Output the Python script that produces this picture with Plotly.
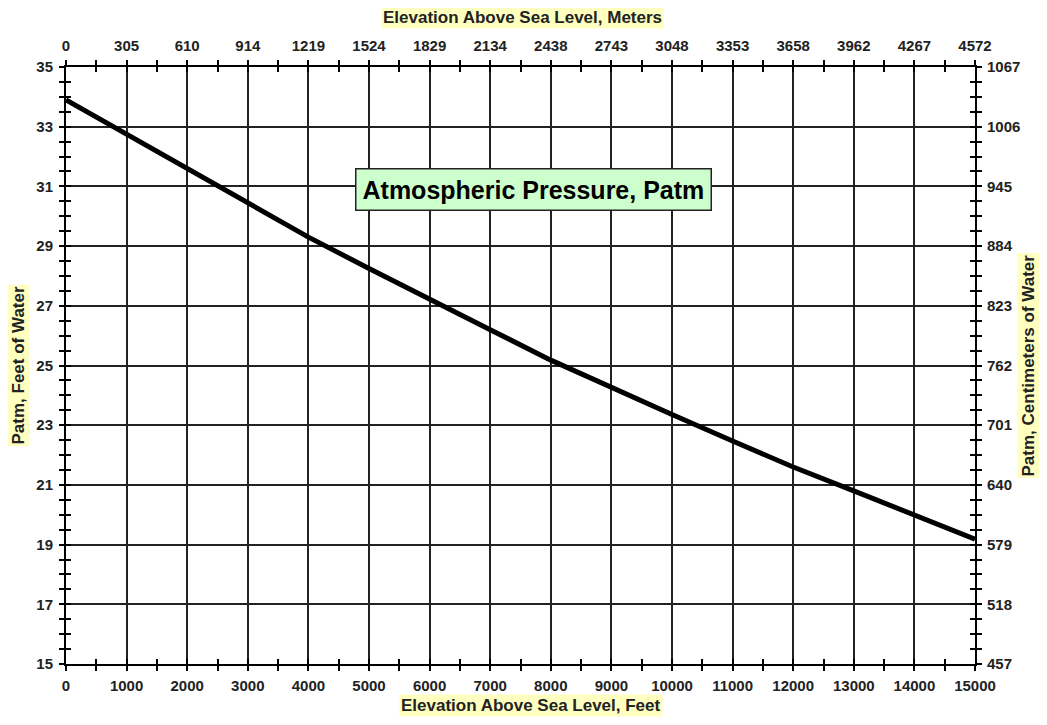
import plotly.graph_objects as go

elev_ft = [0, 1000, 1500, 2000, 3000, 4000, 5000, 6000, 7000, 8000, 9000,
           10000, 11000, 12000, 13000, 14000, 15000]
patm_ft = [33.9, 32.76, 32.15, 31.6, 30.45, 29.3, 28.25, 27.21, 26.2, 25.18, 24.25,
           23.36, 22.47, 21.6, 20.8, 20.0, 19.18]

ft_ticks = list(range(0, 15001, 1000))
ft_labels = [str(v) for v in ft_ticks]
m_labels = ["0", "305", "610", "914", "1219", "1524", "1829", "2134", "2438",
            "2743", "3048", "3353", "3658", "3962", "4267", "4572"]
y_ticks = list(range(15, 36, 2))
y_labels = [str(v) for v in y_ticks]
cm_labels = ["457", "518", "579", "640", "701", "762", "823", "884", "945",
             "1006", "1067"]

title_text = "Atmospheric Pressure, Patm"
FONT = "Liberation Sans, Arial, sans-serif"
tickfont = dict(family=FONT, size=15, color="#222222", weight="bold")

fig = go.Figure()
fig.add_trace(go.Scatter(x=elev_ft, y=patm_ft, mode="lines",
                         line=dict(color="black", width=5), showlegend=False,
                         xaxis="x", yaxis="y"))
for xa, ya in [("x2", "y2"), ("x3", "y3"), ("x4", "y4")]:
    fig.add_trace(go.Scatter(x=elev_ft, y=patm_ft, mode="lines",
                             line=dict(color="rgba(0,0,0,0)", width=0),
                             showlegend=False, hoverinfo="skip",
                             xaxis=xa, yaxis=ya))

xr = [0, 15000]
yr = [15, 35]
common = dict(showline=True, linecolor="black", linewidth=2, zeroline=False)
tk = dict(ticklen=5, tickwidth=2, tickcolor="black")

fig.update_layout(
    width=1031, height=709,
    margin=dict(l=58, r=64, t=59, b=53),
    paper_bgcolor="white", plot_bgcolor="white",
    xaxis=dict(range=xr, tickvals=ft_ticks, ticktext=ft_labels, ticks="outside",
               showgrid=True, gridcolor="#222222", gridwidth=2,
               tickfont=tickfont, side="bottom", ticklabelstandoff=2,
               minor=dict(dtick=500, ticks="outside", showgrid=False, **tk),
               **tk, **common),
    xaxis2=dict(range=xr, tickvals=ft_ticks, ticktext=m_labels, overlaying="x",
                side="top", ticks="outside", showgrid=False, tickfont=tickfont,
                ticklabelstandoff=3,
                minor=dict(dtick=500, ticks="outside", **tk), **tk, **common),
    xaxis3=dict(range=xr, tickvals=ft_ticks, overlaying="x", side="bottom",
                ticks="inside", showticklabels=False, showgrid=False,
                minor=dict(dtick=500, ticks="inside", **tk), **tk, **common),
    xaxis4=dict(range=xr, tickvals=ft_ticks, overlaying="x", side="top",
                ticks="inside", showticklabels=False, showgrid=False,
                minor=dict(dtick=500, ticks="inside", **tk), **tk, **common),
    yaxis=dict(range=yr, tickvals=y_ticks, ticktext=y_labels, ticks="outside",
               showgrid=True, gridcolor="#222222", gridwidth=2,
               tickfont=tickfont, side="left", ticklabelstandoff=3,
               minor=dict(dtick=0.5, ticks="outside", showgrid=False, **tk),
               **tk, **common),
    yaxis2=dict(range=yr, tickvals=y_ticks, ticktext=cm_labels, overlaying="y",
                side="right", ticks="outside", showgrid=False, tickfont=tickfont,
                ticklabelstandoff=2,
                minor=dict(dtick=0.5, ticks="outside", **tk), **tk, **common),
    yaxis3=dict(range=yr, tickvals=y_ticks, overlaying="y", side="left",
                ticks="inside", showticklabels=False, showgrid=False,
                minor=dict(dtick=0.5, ticks="inside", **tk), **tk, **common),
    yaxis4=dict(range=yr, tickvals=y_ticks, overlaying="y", side="right",
                ticks="inside", showticklabels=False, showgrid=False,
                minor=dict(dtick=0.5, ticks="inside", **tk), **tk, **common),
)

label_font = dict(family=FONT, size=17, color="#222222")
ann = dict(showarrow=False, font=label_font, bgcolor="#FFFFC0", borderpad=1,
           xanchor="center", yanchor="middle", xref="paper", yref="paper")
fig.add_annotation(text="<b>Elevation Above Sea Level, Meters</b>",
                   x=0.502, y=1.0, yshift=50, **ann)
fig.add_annotation(text="<b>Elevation Above Sea Level, Feet</b>",
                   x=0.512, y=0.0, yshift=-41, **ann)
fig.add_annotation(text="<b>Patm, Feet of Water</b>",
                   x=0.0, xshift=-48, y=0.5, textangle=-90, **ann)
fig.add_annotation(text="<b>Patm, Centimeters of Water</b>",
                   x=1.0, xshift=53, y=0.5, textangle=-90, **ann)
fig.add_annotation(text="<b>" + title_text + "</b>", xref="x", yref="y",
                   x=7720, y=30.88, showarrow=False,
                   font=dict(family=FONT, size=25, color="black"),
                   bgcolor="#CCFFCC", bordercolor="#222222", borderwidth=1.5,
                   borderpad=6)

fig.write_html("out.html")
